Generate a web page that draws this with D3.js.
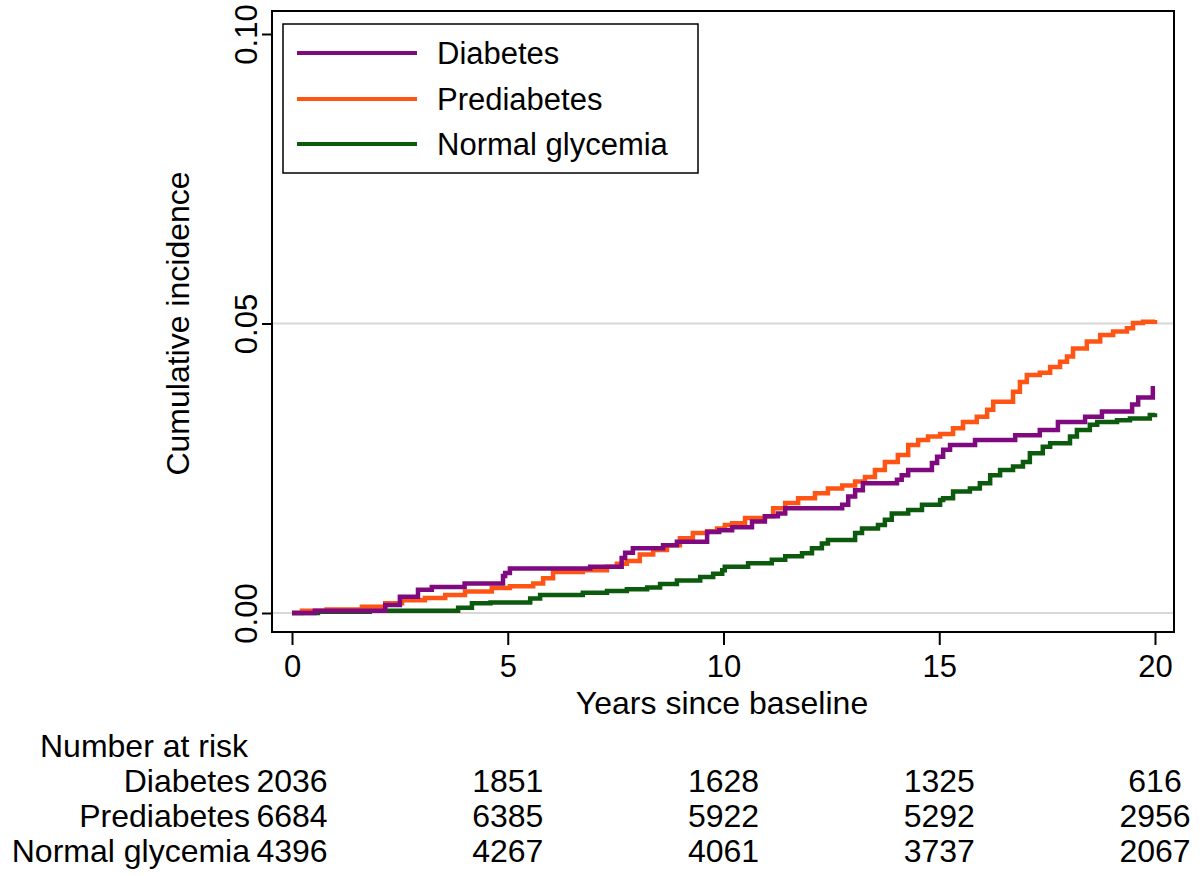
<!DOCTYPE html>
<html>
<head>
<meta charset="utf-8">
<script src="https://cdn.jsdelivr.net/npm/d3@7"></script>
<style>
  html, body { margin: 0; padding: 0; background: #fff; }
  svg text { font-family: "Liberation Sans", Arial, sans-serif; fill: #000; }
</style>
</head>
<body>
<svg id="chart" width="1200" height="876"></svg>
<script>
// ---- Data ----
const seriesNames = ["Diabetes", "Prediabetes", "Normal glycemia"];
const seriesColors = ["#7f0a80", "#ff5514", "#0c5a0e"];

const diabetesT = [0, 0.53, 2.16, 2.5, 2.92, 3.24, 4.0, 4.89, 4.94, 5.05, 6.91, 7.64, 7.72, 7.9, 8.6, 8.92, 9.62, 9.9, 10.2, 10.66, 10.96, 11.26, 11.43, 12.75, 12.89, 13.05, 13.23, 14.02, 14.13, 14.28, 14.83, 14.95, 15.09, 15.25, 15.83, 16.76, 17.33, 17.75, 18.38, 18.77, 19.47, 19.61, 19.95, 20.0];
const diabetesV = [0, 0.0004, 0.0014, 0.0028, 0.004, 0.0045, 0.0051, 0.0064, 0.0069, 0.0077, 0.008, 0.0095, 0.0104, 0.0112, 0.0117, 0.0123, 0.014, 0.0143, 0.0148, 0.0158, 0.0167, 0.0172, 0.0181, 0.0187, 0.0201, 0.0212, 0.0224, 0.023, 0.0238, 0.0247, 0.0259, 0.027, 0.0282, 0.029, 0.0299, 0.0307, 0.0316, 0.033, 0.0339, 0.0348, 0.036, 0.0372, 0.0388, 0.0388];

const prediabetesT = [0, 0.23, 0.8, 1.62, 2.16, 2.55, 3.08, 3.55, 4.01, 4.63, 5.05, 5.59, 5.82, 6.05, 6.74, 7.3, 7.53, 7.76, 8.06, 8.37, 8.69, 8.99, 9.29, 9.62, 9.85, 10.03, 10.2, 10.5, 10.96, 11.15, 11.43, 11.73, 12.12, 12.42, 12.75, 13.05, 13.28, 13.51, 13.74, 14.04, 14.28, 14.51, 14.74, 15.02, 15.32, 15.55, 15.87, 16.11, 16.25, 16.71, 16.87, 17.03, 17.33, 17.57, 17.8, 17.96, 18.1, 18.42, 18.73, 19.03, 19.35, 19.49, 19.72, 20.0];
const prediabetesV = [0, 0.0004, 0.0006, 0.0011, 0.0017, 0.0022, 0.0026, 0.0031, 0.0037, 0.0043, 0.0046, 0.0051, 0.006, 0.0071, 0.0074, 0.008, 0.0085, 0.009, 0.0101, 0.0109, 0.0117, 0.0129, 0.0138, 0.0141, 0.0146, 0.0152, 0.0155, 0.0164, 0.0167, 0.0181, 0.019, 0.0198, 0.0207, 0.0215, 0.022, 0.0227, 0.0235, 0.0247, 0.0261, 0.0273, 0.029, 0.0299, 0.0305, 0.0309, 0.0319, 0.033, 0.0339, 0.0351, 0.0365, 0.0382, 0.0399, 0.0411, 0.0415, 0.0425, 0.0434, 0.0443, 0.0457, 0.0469, 0.048, 0.0486, 0.0492, 0.0501, 0.0503, 0.0506];

const normalT = [0, 0.6, 1.8, 3.85, 4.17, 4.6, 5.52, 5.75, 6.74, 7.3, 7.76, 8.23, 8.53, 8.92, 9.46, 9.76, 9.97, 10.03, 10.57, 11.12, 11.43, 11.82, 12.05, 12.28, 12.42, 13.05, 13.21, 13.58, 13.74, 13.9, 14.28, 14.6, 15.02, 15.09, 15.32, 15.71, 15.94, 16.18, 16.41, 16.71, 16.94, 17.1, 17.4, 17.57, 18.03, 18.19, 18.49, 18.66, 19.12, 19.42, 19.88, 20.0];
const normalV = [0, 0.0002, 0.0004, 0.0009, 0.0017, 0.0018, 0.0025, 0.0031, 0.0035, 0.0038, 0.0041, 0.0044, 0.005, 0.0056, 0.0062, 0.0068, 0.0074, 0.008, 0.0086, 0.0092, 0.0098, 0.0103, 0.0112, 0.012, 0.0126, 0.0138, 0.0146, 0.0152, 0.0161, 0.0172, 0.0178, 0.0187, 0.0195, 0.0198, 0.021, 0.0215, 0.0224, 0.0238, 0.0247, 0.0253, 0.0261, 0.0276, 0.0287, 0.0293, 0.0305, 0.0316, 0.0325, 0.033, 0.0333, 0.0336, 0.0342, 0.0345];

const xTicks = [0, 5, 10, 15, 20];
const yTicks = [0, 0.05, 0.1];
const yTickLabels = ["0.00", "0.05", "0.10"];
const gridValues = [0, 0.05];

const riskTimes = [0, 5, 10, 15, 20];
const riskDiabetes = [2036, 1851, 1628, 1325, 616];
const riskPrediabetes = [6684, 6385, 5922, 5292, 2956];
const riskNormal = [4396, 4267, 4061, 3737, 2067];

const xTitle = "Years since baseline";
const yTitle = "Cumulative incidence";
const riskTitle = "Number at risk";

// ---- Layout ----
const svg = d3.select("#chart");
const box = { left: 272, right: 1174, top: 11, bottom: 632 };
const x = d3.scaleLinear().domain([0, 20]).range([292, 1155]);
const y = d3.scaleLinear().domain([0, 0.1]).range([613, 34]);
const FS_TICK = 31, FS_LEG = 31, FS_TITLE = 32, FS_TABLE = 32;

svg.append("rect").attr("x", 0).attr("y", 0).attr("width", 1200).attr("height", 876).attr("fill", "#fff");

// gridlines
svg.append("g").selectAll("line").data(gridValues).join("line")
  .attr("x1", box.left).attr("x2", box.right)
  .attr("y1", d => y(d)).attr("y2", d => y(d))
  .attr("stroke", "#d8d8d8").attr("stroke-width", 2);

// series
const series = [
  { name: seriesNames[0], color: seriesColors[0], t: diabetesT, v: diabetesV },
  { name: seriesNames[1], color: seriesColors[1], t: prediabetesT, v: prediabetesV },
  { name: seriesNames[2], color: seriesColors[2], t: normalT, v: normalV }
];
const line = d3.line().x(d => x(d[0])).y(d => y(d[1])).curve(d3.curveStepAfter);
[2, 1, 0].forEach(i => {
  const s = series[i];
  const pts = s.t.map((t, j) => [t, s.v[j]]);
  svg.append("path").datum(pts)
    .attr("d", line)
    .attr("fill", "none")
    .attr("stroke", s.color)
    .attr("stroke-width", 4.5)
    .attr("stroke-linejoin", "miter");
});

// plot frame
svg.append("rect")
  .attr("x", box.left).attr("y", box.top)
  .attr("width", box.right - box.left).attr("height", box.bottom - box.top)
  .attr("fill", "none").attr("stroke", "#000").attr("stroke-width", 2);

// x axis
const xAxis = d3.axisBottom(x).tickValues(xTicks).tickSize(13).tickPadding(10).tickFormat(d3.format("d"));
const gx = svg.append("g").attr("transform", `translate(0,${box.bottom})`).call(xAxis);
gx.select(".domain").remove();
gx.selectAll(".tick line").attr("stroke", "#000").attr("stroke-width", 2);
gx.selectAll(".tick text").attr("font-size", FS_TICK).attr("font-family", "Liberation Sans, Arial, sans-serif").attr("fill", "#000");

// y axis
const yAxis = d3.axisLeft(y).tickValues(yTicks).tickSize(10).tickFormat((d, i) => yTickLabels[i]);
const gy = svg.append("g").attr("transform", `translate(${box.left},0)`).call(yAxis);
gy.select(".domain").remove();
gy.selectAll(".tick line").attr("stroke", "#000").attr("stroke-width", 2);
gy.selectAll(".tick text")
  .attr("font-size", FS_TICK).attr("font-family", "Liberation Sans, Arial, sans-serif").attr("fill", "#000")
  .attr("x", null).attr("dy", null)
  .attr("text-anchor", "middle")
  .attr("transform", "translate(-15,0) rotate(-90)");

// axis titles
svg.append("text").attr("x", 722).attr("y", 714).attr("text-anchor", "middle")
  .attr("font-size", FS_TITLE).text(xTitle);
svg.append("text").attr("transform", `translate(189,${y(0.05)}) rotate(-90)`)
  .attr("text-anchor", "middle").attr("font-size", FS_TITLE).text(yTitle);

// legend
const leg = svg.append("g");
leg.append("rect").attr("x", 283).attr("y", 24).attr("width", 415).attr("height", 149)
  .attr("fill", "#fff").attr("stroke", "#000").attr("stroke-width", 1.5);
const legY = [53, 99, 144];
series.forEach((s, i) => {
  leg.append("line").attr("x1", 297).attr("x2", 417).attr("y1", legY[i]).attr("y2", legY[i])
    .attr("stroke", s.color).attr("stroke-width", 4);
  leg.append("text").attr("x", 437).attr("y", legY[i]).attr("dy", "0.35em")
    .attr("font-size", FS_LEG).text(s.name);
});

// number at risk table
const risk = [riskDiabetes, riskPrediabetes, riskNormal];
const rowY = [792, 827, 862];
svg.append("text").attr("x", 40).attr("y", 757).attr("font-size", FS_TABLE).text(riskTitle);
risk.forEach((arr, i) => {
  svg.append("text").attr("x", 250).attr("y", rowY[i]).attr("text-anchor", "end")
    .attr("font-size", FS_TABLE).text(seriesNames[i]);
  svg.append("g").selectAll("text").data(riskTimes).join("text")
    .attr("x", d => x(d)).attr("y", rowY[i]).attr("text-anchor", "middle")
    .attr("font-size", FS_TABLE).text((d, j) => arr[j]);
});
</script>
</body>
</html>
